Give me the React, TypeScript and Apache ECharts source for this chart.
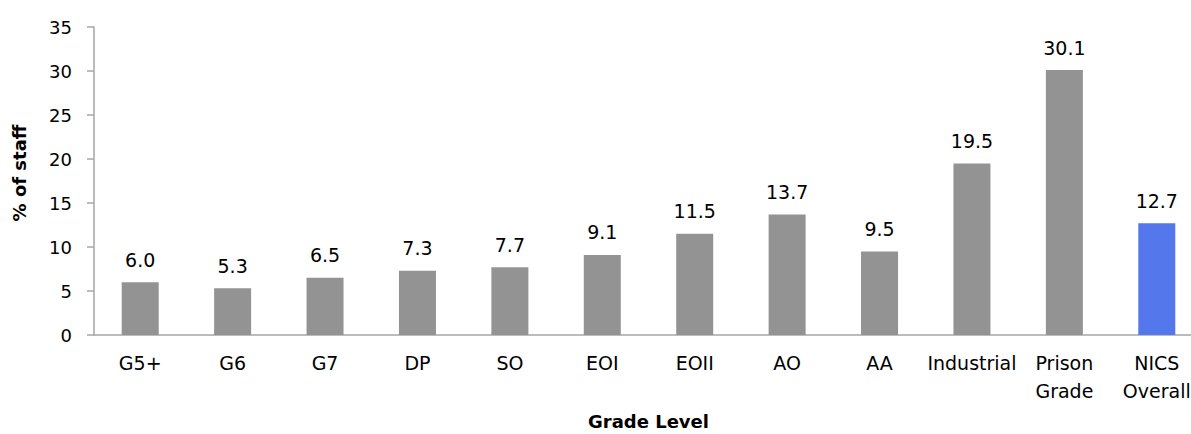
import React, { useEffect, useRef } from "react";
import * as echarts from "echarts";

const categories = ["G5+", "G6", "G7", "DP", "SO", "EOI", "EOII", "AO", "AA", "Industrial", "Prison\nGrade", "NICS\nOverall"];
const values = [6.0, 5.3, 6.5, 7.3, 7.7, 9.1, 11.5, 13.7, 9.5, 19.5, 30.1, 12.7];
const highlightIndex = 11;
const yTicks = { min: 0, max: 35, interval: 5 };
const yTitle = "% of staff";
const xTitle = "Grade Level";

const FONT = "DejaVu Sans";

export default function App() {
  const ref = useRef<HTMLDivElement>(null);
  useEffect(() => {
    document.body.style.margin = "0";
    document.body.style.overflow = "hidden";
    const chart = echarts.init(ref.current!, null, { renderer: "svg" });
    chart.setOption({
      animation: false,
      textStyle: { fontFamily: FONT },
      grid: {
        left: 94,
        right: -12,
        top: 27,
        bottom: 99,
        containLabel: false,
        outerBoundsMode: "none",
      },
      graphic: [
        {
          type: "text",
          x: 19,
          y: 173,
          rotation: Math.PI / 2,
          style: {
            text: yTitle,
            fontFamily: FONT,
            fontSize: 18,
            fontWeight: "bold",
            fill: "#000",
            align: "center",
            verticalAlign: "middle",
          },
        },
      ],
      xAxis: {
        type: "category",
        data: categories,
        name: xTitle,
        nameLocation: "middle",
        nameGap: 77,
        nameTextStyle: { fontFamily: FONT, fontSize: 18, fontWeight: "bold", color: "#000" },
        axisLine: { lineStyle: { color: "#a6a6a6", width: 1.5 } },
        axisTick: { show: false },
        axisLabel: { color: "#000", fontSize: 19, fontFamily: FONT, margin: 14, lineHeight: 28, interval: 0 },
      },
      yAxis: {
        type: "value",
        min: yTicks.min,
        max: yTicks.max,
        interval: yTicks.interval,
        axisLine: { show: true, lineStyle: { color: "#a6a6a6", width: 1.5 } },
        axisTick: { show: true, length: 7, lineStyle: { color: "#a6a6a6", width: 1.5 } },
        splitLine: { show: false },
        axisLabel: { color: "#000", fontSize: 18, fontFamily: FONT, margin: 22 },
      },
      series: [
        {
          type: "bar",
          data: values.map((v, i) => ({
            value: v,
            itemStyle: { color: i === highlightIndex ? "#5577ec" : "#939393" },
          })),
          barWidth: 37,
          label: {
            show: true,
            position: "top",
            distance: 13,
            color: "#000",
            fontSize: 19,
            fontFamily: FONT,
            formatter: (p: any) => Number(p.value).toFixed(1),
          },
        },
      ],
    });
    return () => chart.dispose();
  }, []);
  return <div ref={ref} style={{ width: 1191, height: 434 }} />;
}
